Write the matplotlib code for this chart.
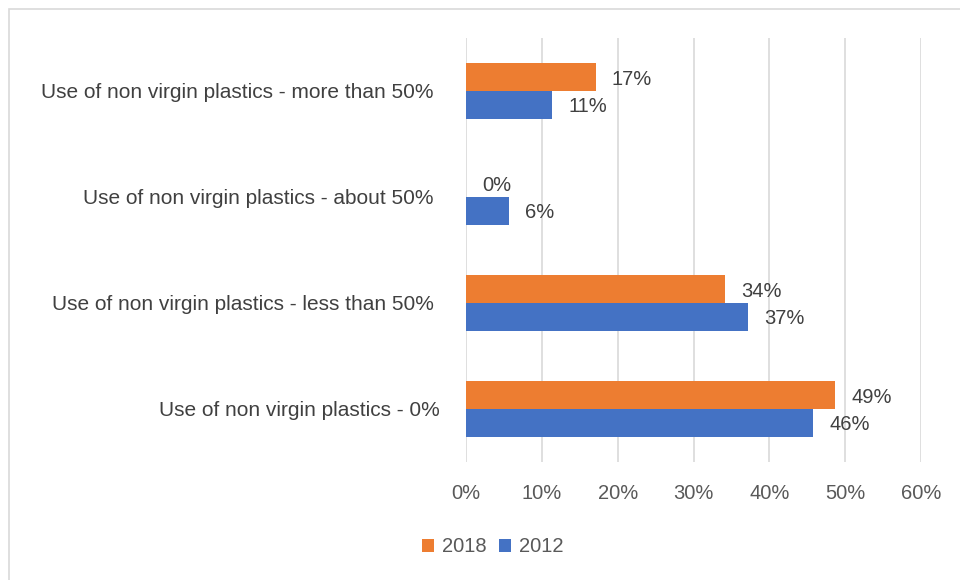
import matplotlib.pyplot as plt
import numpy as np
from matplotlib.patches import Rectangle

plt.rcParams['font.family'] = ['Liberation Sans', 'DejaVu Sans']

# data (fractions), bottom category first
categories = ['Use of non virgin plastics - 0%',
              'Use of non virgin plastics - less than 50% ',
              'Use of non virgin plastics - about 50% ',
              'Use of non virgin plastics - more than 50% ']
vals_2018 = [0.487, 0.342, 0.0, 0.171]
vals_2012 = [0.458, 0.372, 0.057, 0.114]
xticks = [0, 0.1, 0.2, 0.3, 0.4, 0.5, 0.6]

fig = plt.figure(figsize=(9.6, 5.8), dpi=100)
ax = fig.add_axes([466/960, 1-462/580, (921-466)/960, (462-38)/580])

y = np.arange(len(categories))
h = 0.26
b18 = ax.barh(y + h/2, vals_2018, height=h, color='#ED7D31', label='2018')
b12 = ax.barh(y - h/2, vals_2012, height=h, color='#4472C4', label='2012')

for bars, vals in [(b18, vals_2018), (b12, vals_2012)]:
    for bar, v in zip(bars, vals):
        ax.annotate(f'{round(v*100):.0f}%', (v, bar.get_y() + bar.get_height()/2),
                    xytext=(16, -2), textcoords='offset pixels',
                    va='center', ha='left', fontsize=14.5, color='#404040')

ax.set_xlim(0, 0.6)
ax.set_ylim(-0.5, 3.5)
ax.set_xticks(xticks)
ax.set_xticklabels([f'{int(t*100)}%' for t in xticks])
ax.set_yticks(y)
ax.set_yticklabels(categories)
ax.tick_params(axis='x', length=0, pad=16, labelsize=14.5, labelcolor='#595959')
ax.tick_params(axis='y', length=0, pad=19, labelsize=15, labelcolor='#404040')
ax.grid(axis='x', color='#d9d9d9', linewidth=1.2)
ax.set_axisbelow(True)
for s in ax.spines.values():
    s.set_visible(False)

fig.legend(handles=[b18, b12], loc='center', bbox_to_anchor=(493/960, 1-547/580),
           ncol=2, frameon=False, fontsize=14.5, handlelength=0.6, handleheight=0.6,
           columnspacing=0.6, handletextpad=0.4, labelcolor='#595959')

fig.patches.append(Rectangle((9/960, -0.05), 1.1, 1-9/580+0.05, transform=fig.transFigure,
                             fill=False, edgecolor='#d9d9d9', linewidth=1.2))

fig.savefig('out.png', dpi=100)
